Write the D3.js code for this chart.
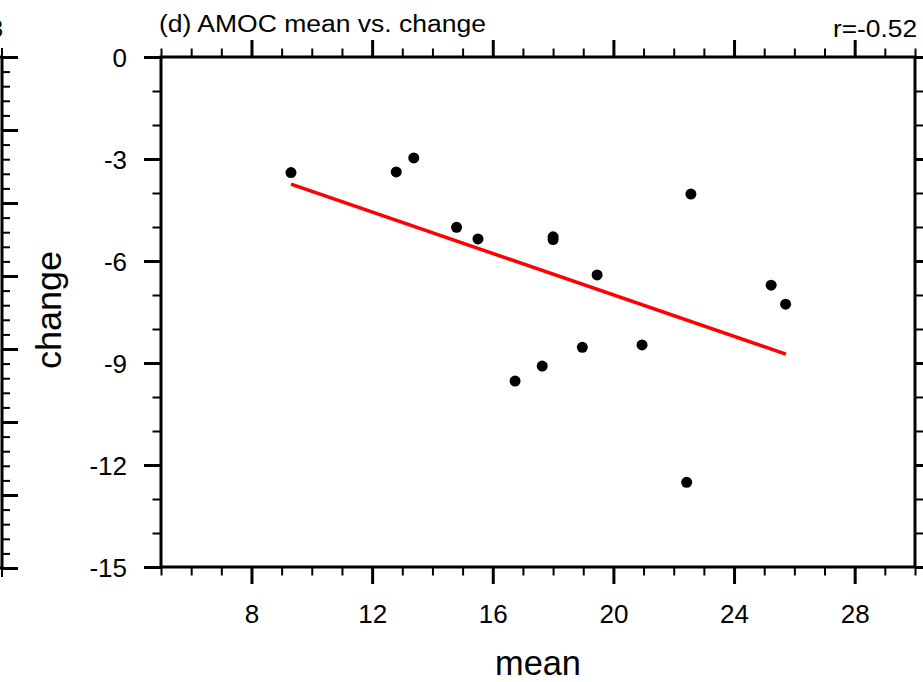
<!DOCTYPE html>
<html>
<head>
<meta charset="utf-8">
<script src="https://cdn.jsdelivr.net/npm/d3@7"></script>
<style>
  html, body { margin: 0; padding: 0; background: #fff; }
  svg { display: block; font-family: "Liberation Sans", Arial, Helvetica, sans-serif; }
</style>
</head>
<body>
<svg id="chart" width="923" height="682"></svg>
<script>
// ---- data ----
const meanVals   = [9.31, 12.80, 13.38, 14.80, 15.51, 18.00, 18.00, 19.46, 16.74, 17.64, 18.97, 20.95, 22.43, 22.57, 25.23, 25.71];
const changeVals = [-3.40, -3.38, -2.97, -5.01, -5.35, -5.29, -5.37, -6.41, -9.53, -9.09, -8.54, -8.47, -12.51, -4.03, -6.71, -7.27];
const fitMean    = [9.31, 25.72];
const fitChange  = [-3.74, -8.74];
const xMajorTicks = [8, 12, 16, 20, 24, 28];
const xMinorTicks = [5, 6, 7, 9, 10, 11, 13, 14, 15, 17, 18, 19, 21, 22, 23, 25, 26, 27, 29, 30];
const yMajorTicks = [0, -3, -6, -9, -12, -15];
const yMinorTicks = [-1, -2, -4, -5, -7, -8, -10, -11, -13, -14];
const titleText = "(d) AMOC mean vs. change";
const corrText  = "r=-0.52";
const xTitle = "mean";
const yTitle = "change";
// remnant of neighbouring panel (c) on the left edge
const prevMajorTicks = [0, 1, 2, 3, 4, 5, 6, 7];
const prevMinorTicks = d3.range(0, 35).map(i => i / 5).filter(v => Math.abs(v - Math.round(v)) > 1e-6);
const prevCorrTail = "3";

// ---- layout ----
const svg = d3.select("#chart");
const L = 161, R = 915, T = 57, B = 567;
const x = d3.scaleLinear().domain([5, 30]).range([L, R]);
const y = d3.scaleLinear().domain([-15, 0]).range([B, T]);

const MAJ = 17, MIN = 8.5;
const fontTick = 26;

function styleAxis(g, sw) {
  g.select(".domain").remove();
  g.selectAll(".tick line").attr("stroke", "#000").attr("stroke-width", sw);
  g.attr("font-family", null).attr("font-size", null);
}

// bottom axis
svg.append("g").attr("transform", `translate(0,${B})`)
  .call(d3.axisBottom(x).tickValues(xMinorTicks).tickSize(MIN).tickSizeOuter(0).tickFormat(""))
  .call(g => styleAxis(g, 2));
svg.append("g").attr("transform", `translate(0,${B})`)
  .call(d3.axisBottom(x).tickValues(xMajorTicks).tickSize(MAJ).tickSizeOuter(0).tickPadding(21).tickFormat(d3.format("d")))
  .call(g => styleAxis(g, 3))
  .call(g => g.selectAll(".tick text").attr("font-size", fontTick).attr("fill", "#000"));
// top axis
svg.append("g").attr("transform", `translate(0,${T})`)
  .call(d3.axisTop(x).tickValues(xMinorTicks).tickSize(MIN).tickSizeOuter(0).tickFormat(""))
  .call(g => styleAxis(g, 2));
svg.append("g").attr("transform", `translate(0,${T})`)
  .call(d3.axisTop(x).tickValues(xMajorTicks).tickSize(MAJ).tickSizeOuter(0).tickFormat(""))
  .call(g => styleAxis(g, 3));
// left axis
svg.append("g").attr("transform", `translate(${L},0)`)
  .call(d3.axisLeft(y).tickValues(yMinorTicks).tickSize(MIN).tickSizeOuter(0).tickFormat(""))
  .call(g => styleAxis(g, 2));
svg.append("g").attr("transform", `translate(${L},0)`)
  .call(d3.axisLeft(y).tickValues(yMajorTicks).tickSize(MAJ).tickSizeOuter(0).tickPadding(17).tickFormat(d => d3.format("d")(d).replace("−", "-")))
  .call(g => styleAxis(g, 3))
  .call(g => g.selectAll(".tick text").attr("font-size", fontTick).attr("fill", "#000").attr("dy", "0.36em"));
// right axis
svg.append("g").attr("transform", `translate(${R},0)`)
  .call(d3.axisRight(y).tickValues(yMinorTicks).tickSize(MIN).tickSizeOuter(0).tickFormat(""))
  .call(g => styleAxis(g, 2));
svg.append("g").attr("transform", `translate(${R},0)`)
  .call(d3.axisRight(y).tickValues(yMajorTicks).tickSize(MAJ).tickSizeOuter(0).tickFormat(""))
  .call(g => styleAxis(g, 3));

// plot frame
svg.append("rect")
  .attr("x", x.range()[0]).attr("y", y.range()[1])
  .attr("width", x.range()[1] - x.range()[0]).attr("height", y.range()[0] - y.range()[1])
  .attr("fill", "none").attr("stroke", "#000").attr("stroke-width", 3);

// regression line
svg.append("path")
  .datum(fitMean.map((m, i) => [m, fitChange[i]]))
  .attr("fill", "none").attr("stroke", "#ff0000").attr("stroke-width", 3.5)
  .attr("d", d3.line().x(d => x(d[0])).y(d => y(d[1])));

// points
svg.append("g").selectAll("circle")
  .data(meanVals.map((m, i) => [m, changeVals[i]]))
  .join("circle")
  .attr("cx", d => x(d[0])).attr("cy", d => y(d[1]))
  .attr("r", 5.5).attr("fill", "#000");

// titles
svg.append("text").attr("x", 159).attr("y", 32).attr("font-size", 23)
  .attr("textLength", 327).attr("lengthAdjust", "spacingAndGlyphs").text(titleText);
svg.append("text").attr("x", 917).attr("y", 36.5).attr("font-size", 23)
  .attr("text-anchor", "end").attr("textLength", 84).attr("lengthAdjust", "spacingAndGlyphs").text(corrText);
svg.append("text").attr("x", 538).attr("y", 675).attr("font-size", 35)
  .attr("text-anchor", "middle").attr("textLength", 86).attr("lengthAdjust", "spacingAndGlyphs").text(xTitle);
svg.append("text").attr("transform", "translate(61,310) rotate(-90)").attr("font-size", 35)
  .attr("text-anchor", "middle").attr("textLength", 118).attr("lengthAdjust", "spacingAndGlyphs").text(yTitle);

// ---- remnant of the neighbouring panel at the left edge ----
const PX = 2;
const py = d3.scaleLinear().domain([0, 7]).range([57, 568]);
svg.append("g").attr("transform", `translate(${PX},0)`)
  .call(d3.axisRight(py).tickValues(prevMinorTicks).tickSize(8).tickSizeOuter(0).tickFormat(""))
  .call(g => styleAxis(g, 2));
svg.append("g").attr("transform", `translate(${PX},0)`)
  .call(d3.axisRight(py).tickValues(prevMajorTicks).tickSize(16).tickSizeOuter(0).tickFormat(""))
  .call(g => styleAxis(g, 3));
svg.append("line").attr("x1", PX).attr("x2", PX).attr("y1", py.range()[0]).attr("y2", py.range()[1])
  .attr("stroke", "#000").attr("stroke-width", 3);
svg.append("line").attr("x1", -10).attr("x2", PX).attr("y1", py(0)).attr("y2", py(0))
  .attr("stroke", "#000").attr("stroke-width", 3);
svg.append("line").attr("x1", -10).attr("x2", PX).attr("y1", py(7)).attr("y2", py(7))
  .attr("stroke", "#000").attr("stroke-width", 3);
svg.append("line").attr("x1", PX).attr("x2", PX).attr("y1", py(0)).attr("y2", py(0) - 9)
  .attr("stroke", "#000").attr("stroke-width", 2);
svg.append("line").attr("x1", PX).attr("x2", PX).attr("y1", py(7)).attr("y2", py(7) + 9)
  .attr("stroke", "#000").attr("stroke-width", 2);
svg.append("text").attr("x", 3).attr("y", 37).attr("font-size", 23)
  .attr("text-anchor", "end").text(prevCorrTail);
</script>
</body>
</html>
